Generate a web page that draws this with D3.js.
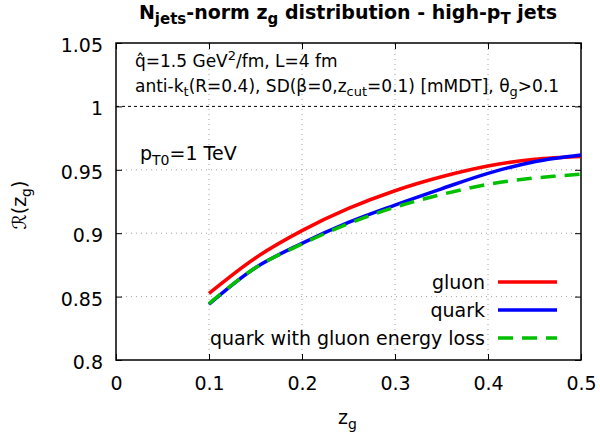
<!DOCTYPE html>
<html>
<head>
<meta charset="utf-8">
<script src="https://cdn.jsdelivr.net/npm/d3@7"></script>
<style>
  body { margin: 0; background: #fff; }
  svg { font-family: "DejaVu Sans", sans-serif; }
</style>
</head>
<body>
<svg id="chart" width="600" height="434"></svg>
<script>
// values
const zg = [0.1, 0.15, 0.2, 0.25, 0.3, 0.35, 0.4, 0.45, 0.5];
const gluon = [0.8525, 0.8805, 0.902, 0.9195, 0.9335, 0.9445, 0.953, 0.9583, 0.9605];
const quark = [0.844, 0.8728, 0.892, 0.9085, 0.9222, 0.935, 0.9472, 0.9564, 0.9617];
const quarkGluonLoss = [0.8445, 0.8728, 0.8915, 0.9075, 0.9205, 0.9305, 0.9385, 0.9435, 0.9465];
const xTicks = [0, 0.1, 0.2, 0.3, 0.4, 0.5];
const yTicks = [0.8, 0.85, 0.9, 0.95, 1, 1.05];

const series = [
  { name: "gluon", values: gluon, color: "#ff0000", dash: null },
  { name: "quark", values: quark, color: "#0000ff", dash: null },
  { name: "quark with gluon energy loss", values: quarkGluonLoss, color: "#00c000", dash: "15 9" },
];

const margin = { left: 116, right: 19, top: 43, bottom: 74 };
const width = 600, height = 434;
const fontSize = 19;
const svg = d3.select("#chart");

const x = d3.scaleLinear().domain([0, 0.5]).range([margin.left, width - margin.right]);
const y = d3.scaleLinear().domain([0.8, 1.05]).range([height - margin.bottom, margin.top]);

// grid
const grid = svg.append("g");
grid.selectAll("line.gx")
  .data(xTicks.slice(1, -1))
  .join("line")
  .attr("x1", d => x(d)).attr("x2", d => x(d))
  .attr("y1", y(0.8)).attr("y2", y(1.05))
  .attr("stroke", "#a0a0a0").attr("stroke-width", 1)
  .attr("stroke-dasharray", "1 4");
grid.selectAll("line.gy")
  .data(yTicks.slice(1, -1).filter(d => d !== 1))
  .join("line")
  .attr("x1", x(0)).attr("x2", x(0.5))
  .attr("y1", d => y(d)).attr("y2", d => y(d))
  .attr("stroke", "#a0a0a0").attr("stroke-width", 1)
  .attr("stroke-dasharray", "1 4");
// reference line at 1
svg.append("line")
  .attr("x1", x(0)).attr("x2", x(0.5))
  .attr("y1", y(1)).attr("y2", y(1))
  .attr("stroke", "#000").attr("stroke-width", 1)
  .attr("stroke-dasharray", "3 3");

// axes with inward ticks, mirrored
const tick = 6;
svg.append("g")
  .attr("transform", `translate(0,${y(0.8)})`)
  .call(d3.axisBottom(x).tickValues(xTicks).tickSize(-tick).tickPadding(17).tickFormat(d3.format("")))
  .call(g => g.select(".domain").remove());
svg.append("g")
  .attr("transform", `translate(0,${y(1.05)})`)
  .call(d3.axisTop(x).tickValues(xTicks).tickSize(-tick).tickFormat(""))
  .call(g => g.select(".domain").remove());
svg.append("g")
  .attr("class", "yaxis")
  .attr("transform", `translate(${x(0)},0)`)
  .call(d3.axisLeft(y).tickValues(yTicks).tickSize(-tick).tickPadding(13).tickFormat(d3.format("")))
  .call(g => g.select(".domain").remove());
svg.append("g")
  .attr("transform", `translate(${x(0.5)},0)`)
  .call(d3.axisRight(y).tickValues(yTicks).tickSize(-tick).tickFormat(""))
  .call(g => g.select(".domain").remove());

svg.selectAll(".tick text")
  .attr("font-family", "DejaVu Sans, sans-serif")
  .attr("font-size", fontSize)
  .attr("fill", "#000");
svg.selectAll(".yaxis .tick text").attr("dy", "0.45em");
svg.selectAll(".tick line").attr("stroke", "#000").attr("stroke-width", 1);

// frame
svg.append("rect")
  .attr("x", x(0)).attr("y", y(1.05))
  .attr("width", x(0.5) - x(0)).attr("height", y(0.8) - y(1.05))
  .attr("fill", "none").attr("stroke", "#000").attr("stroke-width", 1.5);

// curves
const line = d3.line()
  .x((d, i) => x(zg[i]))
  .y(d => y(d))
  .curve(d3.curveCatmullRom);

svg.append("g")
  .selectAll("path")
  .data(series)
  .join("path")
  .attr("d", d => line(d.values))
  .attr("fill", "none")
  .attr("stroke", d => d.color)
  .attr("stroke-width", 3.5)
  .attr("stroke-dasharray", d => d.dash);

// legend
const legend = svg.append("g");
series.forEach((s, i) => {
  const ly = 282 + i * 28;
  legend.append("text")
    .attr("x", 485).attr("y", ly)
    .attr("dy", "0.35em")
    .attr("text-anchor", "end")
    .attr("font-size", fontSize)
    .text(s.name);
  legend.append("line")
    .attr("x1", 498).attr("x2", 557)
    .attr("y1", ly).attr("y2", ly)
    .attr("stroke", s.color).attr("stroke-width", 3.5)
    .attr("stroke-dasharray", s.dash);
});

// title
const title = svg.append("text")
  .attr("x", 348).attr("y", 19)
  .attr("text-anchor", "middle")
  .attr("font-size", 19)
  .attr("font-weight", "bold");
title.append("tspan").text("N");
title.append("tspan").attr("font-size", 15).attr("dy", 5).text("jets");
title.append("tspan").attr("dy", -5).text("-norm z");
title.append("tspan").attr("font-size", 15).attr("dy", 5).text("g");
title.append("tspan").attr("dy", -5).text(" distribution - high-p");
title.append("tspan").attr("font-size", 15).attr("dy", 5).text("T");
title.append("tspan").attr("dy", -5).text(" jets");

// annotations
const a1 = svg.append("text").attr("x", 135).attr("y", 67).attr("font-size", 17);
a1.append("tspan").text("q\u0302=1.5 GeV");
a1.append("tspan").attr("font-size", 13).attr("dy", -7).text("2");
a1.append("tspan").attr("dy", 7).text("/fm, L=4 fm");

const a2 = svg.append("text").attr("x", 135).attr("y", 92).attr("font-size", 17);
a2.append("tspan").text("anti-k");
a2.append("tspan").attr("font-size", 13).attr("dy", 4).text("t");
a2.append("tspan").attr("dy", -4).text("(R=0.4), SD(\u03b2=0,z");
a2.append("tspan").attr("font-size", 13).attr("dy", 4).text("cut");
a2.append("tspan").attr("dy", -4).text("=0.1) [mMDT], \u03b8");
a2.append("tspan").attr("font-size", 13).attr("dy", 4).text("g");
a2.append("tspan").attr("dy", -4).text(">0.1");

const a3 = svg.append("text").attr("x", 140).attr("y", 160).attr("font-size", 19);
a3.append("tspan").text("p");
a3.append("tspan").attr("font-size", 14).attr("dy", 5).text("T0");
a3.append("tspan").attr("dy", -5).text("=1 TeV");

// axis labels
const xl = svg.append("text").attr("x", 338).attr("y", 424).attr("font-size", 19);
xl.append("tspan").text("z");
xl.append("tspan").attr("font-size", 14).attr("dy", 5).text("g");

const yl = svg.append("text")
  .attr("transform", "translate(26,205) rotate(-90)")
  .attr("text-anchor", "middle")
  .attr("font-size", 19);
yl.append("tspan").text("\u211b(z");
yl.append("tspan").attr("font-size", 14).attr("dy", 5).text("g");
yl.append("tspan").attr("dy", -5).text(")");
</script>
</body>
</html>
